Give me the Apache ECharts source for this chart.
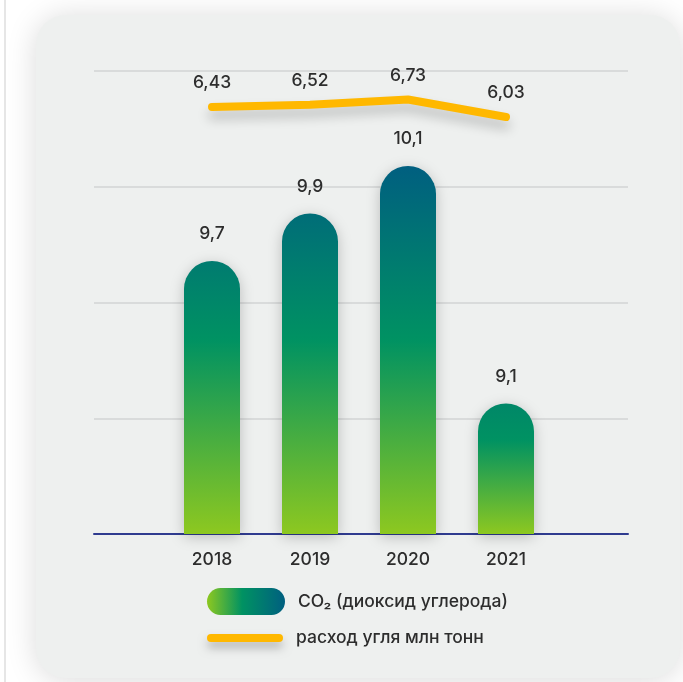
<!DOCTYPE html>
<html>
<head>
<meta charset="utf-8">
<script src="https://cdn.jsdelivr.net/npm/echarts@6/dist/echarts.min.js"></script>
<style>
html,body{margin:0;padding:0;background:#fff;}
#chart{width:683px;height:682px;}
</style>
</head>
<body>
<div id="chart"></div>
<script>
// ---- data ----
const years = ['2018', '2019', '2020', '2021'];
const co2Values = [9.7, 9.9, 10.1, 9.1];
const coalValues = [6.43, 6.52, 6.73, 6.03];
const co2Name = 'CO₂ (диоксид углерода)';
const coalName = 'расход угля млн тонн';

// ---- styling / layout ----
const FONT = 'Inter, "Open Sans", sans-serif';
const FS = 17.5;
const FW = 500;
const TEXT = '#2d2d2d';
const LIME = '#8dc820', GREEN = '#009262', BLUE = '#005f80', ORANGE = '#ffb800';
const BAR_MIN = 8.55, BAR_MAX = 10.5;
const GREEN_H = 0.817;
const FULL_SPAN = 1.55;

function fmt(v) { return String(v).replace('.', ','); }

function barColor(params) {
  const s = params.value - BAR_MIN;
  const gH = Math.min(GREEN_H, 0.72 * s);
  const t = Math.max(0, Math.min(1, (s - gH) / (FULL_SPAN - GREEN_H)));
  const top = echarts.color.lerp(t, [GREEN, BLUE]);
  const gFrac = (s - gH) / s;
  return new echarts.graphic.LinearGradient(0, 0, 0, 1, [
    { offset: 0, color: top },
    { offset: gFrac, color: GREEN },
    { offset: 1, color: LIME }
  ]);
}

const chart = echarts.init(document.getElementById('chart'), null, { renderer: 'canvas' });

const txt = { color: TEXT, fontSize: FS, fontWeight: FW, fontFamily: FONT };

const option = {
  backgroundColor: '#ffffff',
  animation: false,
  textStyle: { fontFamily: FONT },
  graphic: [
    { type: 'rect', z: -100, shape: { x: 4, y: 0, width: 2, height: 682 }, style: { fill: '#e6e6e6' } },
    { type: 'rect', z: -90, shape: { x: 36, y: 15, width: 644, height: 663, r: 30 },
      style: { fill: '#eef0ef', shadowBlur: 30, shadowColor: 'rgba(0,0,0,0.15)', shadowOffsetY: 2 } }
  ],
  grid: [
    { left: 94, width: 534, top: 71, height: 463 },
    { left: 163, width: 392, top: 71, height: 463 }
  ],
  xAxis: [
    { type: 'value', gridIndex: 0, min: 0, max: 1, axisLabel: { show: false }, axisTick: { show: false },
      splitLine: { show: false }, axisLine: { show: true, onZero: false, lineStyle: { color: '#2f3b8f', width: 2 } } },
    { type: 'category', gridIndex: 1, data: years, axisLine: { show: false }, axisTick: { show: false },
      axisLabel: Object.assign({ margin: 17 }, txt) }
  ],
  yAxis: [
    { type: 'value', gridIndex: 0, min: 0, max: 4, interval: 1, axisLabel: { show: false }, axisLine: { show: false },
      axisTick: { show: false }, splitLine: { show: true, lineStyle: { color: '#d2d4d4', width: 1.5 } } },
    { type: 'value', gridIndex: 1, min: BAR_MIN, max: BAR_MAX, show: false, splitLine: { show: false } },
    { type: 'value', gridIndex: 1, min: -10.65, max: 7.87, show: false, splitLine: { show: false } }
  ],
  legend: [
    { left: 207, top: 588, padding: 0, selectedMode: false,
      itemWidth: 78, itemHeight: 27,
      icon: 'path://M13.5,0 H64.5 A13.5,13.5 0 0 1 64.5,27 H13.5 A13.5,13.5 0 0 1 13.5,0 Z',
      textStyle: Object.assign({ padding: [0, 0, 0, 8] }, txt),
      data: [{ name: co2Name, itemStyle: { color: new echarts.graphic.LinearGradient(0, 0, 1, 0, [
        { offset: 0, color: LIME }, { offset: 0.45, color: GREEN }, { offset: 1, color: BLUE }]) } }]
    },
    { left: 207, top: 629, padding: 0, selectedMode: false,
      itemWidth: 76, itemHeight: 8,
      icon: 'path://M4,0 H72 A4,4 0 0 1 72,8 H4 A4,4 0 0 1 4,0 Z',
      itemStyle: { color: ORANGE, shadowBlur: 10, shadowColor: 'rgba(0,0,0,0.25)', shadowOffsetY: 6 },
      textStyle: Object.assign({ padding: [0, 0, 0, 8] }, txt),
      data: [{ name: coalName }]
    }
  ],
  series: [
    {
      name: co2Name, type: 'bar', xAxisIndex: 1, yAxisIndex: 1, data: co2Values,
      barWidth: 56,
      itemStyle: { color: barColor, borderRadius: [28, 28, 0, 0],
        shadowBlur: 14, shadowColor: 'rgba(0,0,0,0.22)', shadowOffsetY: 3 },
      label: Object.assign({ show: true, position: 'top', distance: 18, formatter: p => fmt(p.value) }, txt)
    },
    {
      name: coalName, type: 'line', xAxisIndex: 1, yAxisIndex: 2, data: coalValues,
      symbol: 'circle', symbolSize: 0.1, showSymbol: true,
      itemStyle: { color: ORANGE },
      lineStyle: { color: ORANGE, width: 8, cap: 'round', join: 'round',
        shadowBlur: 12, shadowColor: 'rgba(0,0,0,0.22)', shadowOffsetY: 8 },
      label: Object.assign({ show: true, position: 'top', distance: 15, formatter: p => fmt(p.value) }, txt),
      z: 5
    }
  ]
};
chart.setOption(option);
</script>
</body>
</html>
